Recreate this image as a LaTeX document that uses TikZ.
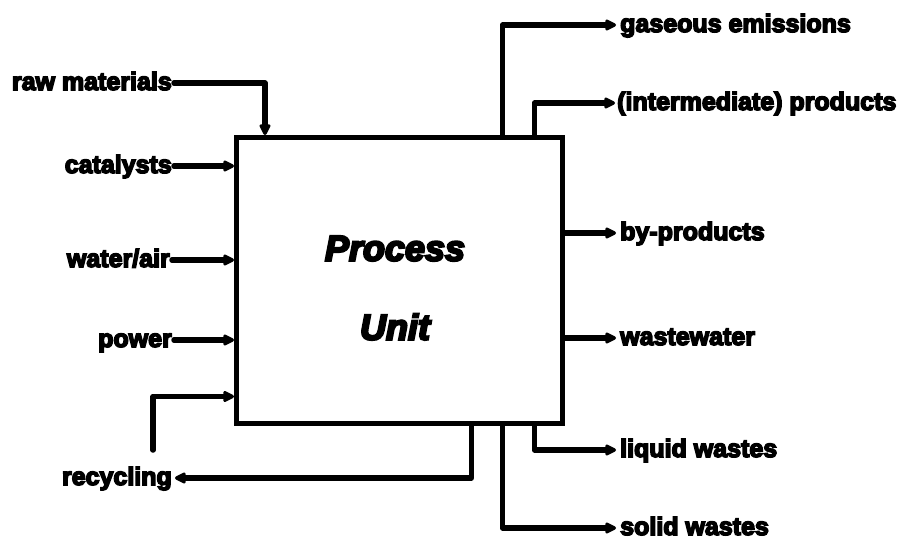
\documentclass[tikz,border=0pt]{standalone}
\usepackage{fontspec}
\setmainfont{Liberation Sans}[BoldFeatures={FakeBold=6},BoldItalicFeatures={FakeBold=6}]
\usetikzlibrary{arrows.meta,calc}

\begin{document}
\begin{tikzpicture}[x=1pt,y=-1pt,
  lbl/.style={font=\fontsize{25}{27}\selectfont\bfseries, inner sep=0pt,
              text height=14pt, text depth=0pt},
  title/.style={font=\fontsize{36}{79}\selectfont\bfseries\itshape, align=center, inner sep=0pt},
  unitbox/.style={draw, line width=4.5pt, minimum width=326pt, minimum height=286pt, inner sep=0pt},
  flow/.style={line width=5.5pt, line join=round, line cap=round,
               -{Triangle[length=13pt,width=12pt,round]}},
]
\useasboundingbox (0,0) rectangle (898,543);

% the process unit
\node[unitbox, anchor=north west] (unit) at (234,135) {};
\node[title] (name) at (395,288) {Process\\Unit};

% inputs
\node[lbl, anchor=east] (raw)   at (172,83)  {raw materials};
\node[lbl, anchor=east] (cat)   at (172,166) {catalysts};
\node[lbl, anchor=east] (water) at (170,260) {water/air};
\node[lbl, anchor=east] (power) at (172,340) {power};
\node[lbl, anchor=east] (recyc) at (172,478) {recycling};
\coordinate (loop) at (153,450);

% outputs
\node[lbl, anchor=west] (gas)   at (620,25)  {gaseous emissions};
\node[lbl, anchor=west] (inter) at (617,103) {(intermediate) products};
\node[lbl, anchor=west] (bypr)  at (620,233) {by-products};
\node[lbl, anchor=west] (ww)    at (620,338) {wastewater};
\node[lbl, anchor=west] (liq)   at (620,450) {liquid wastes};
\node[lbl, anchor=west] (sol)   at (620,528) {solid wastes};

% input streams
\draw[flow, shorten <=2pt] (raw.east) -| ([xshift=31pt]unit.north west);
\draw[flow, shorten <=2pt] (cat.east) -- (cat.east -| unit.west);
\draw[flow, shorten <=2pt] (water.east) -- (water.east -| unit.west);
\draw[flow, shorten <=2pt] (power.east) -- (power.east -| unit.west);
\draw[flow] (loop) |- ([yshift=29pt]unit.south west);

% output streams
\draw[flow, shorten >=3pt] ([xshift=-93pt]unit.south east) |- (recyc.east);
\draw[flow, shorten >=4pt] ([xshift=-62pt]unit.north east) |- (gas.west);
\draw[flow, shorten >=2pt] ([xshift=-30pt]unit.north east) |- (inter.west);
\draw[flow, shorten >=4pt] (unit.east |- bypr.west) -- (bypr.west);
\draw[flow, shorten >=4pt] (unit.east |- ww.west) -- (ww.west);
\draw[flow, shorten >=4pt] ([xshift=-30pt]unit.south east) |- (liq.west);
\draw[flow, shorten >=4pt] ([xshift=-62pt]unit.south east) |- (sol.west);
\end{tikzpicture}
\end{document}
